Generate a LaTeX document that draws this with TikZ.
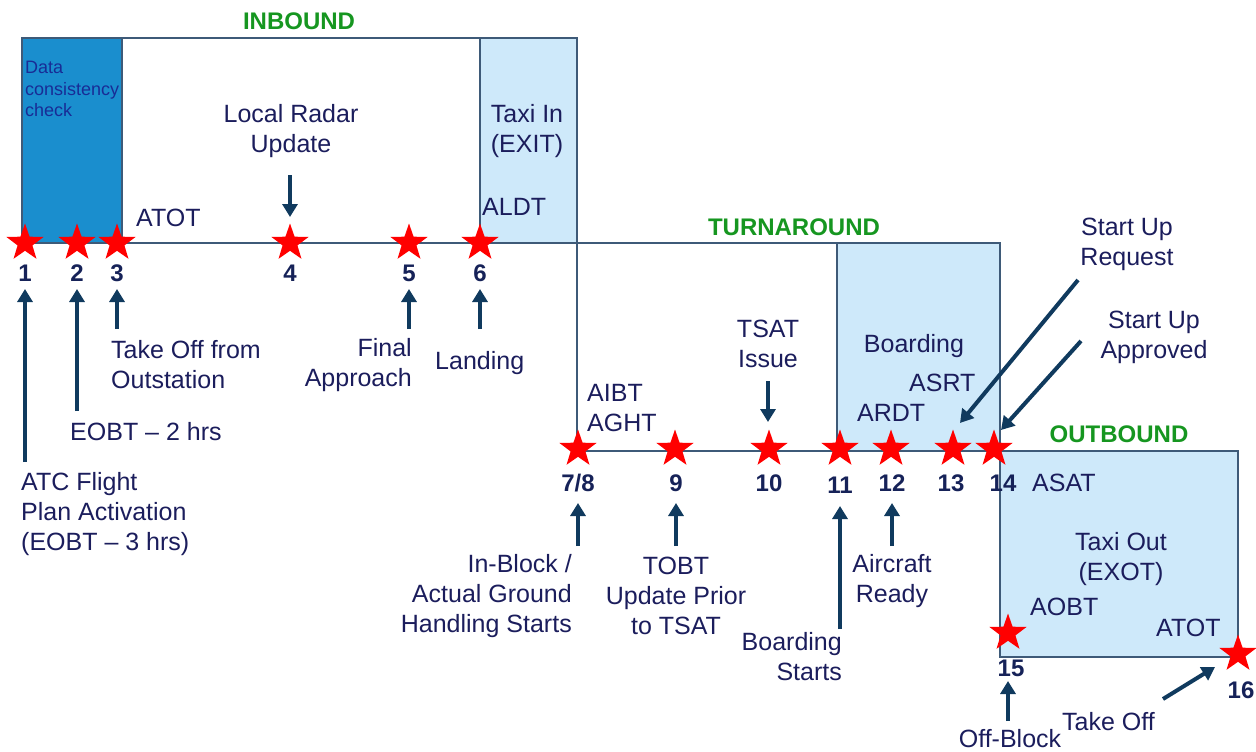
\documentclass[tikz,border=0pt]{standalone}
\usepackage{fontspec}
\setmainfont{Liberation Sans}
\usetikzlibrary{shapes.geometric,arrows.meta}
\definecolor{txt}{RGB}{27,29,92}
\definecolor{numc}{RGB}{22,34,88}
\definecolor{arrc}{RGB}{16,58,94}
\definecolor{edgec}{RGB}{62,90,120}
\definecolor{darkfill}{RGB}{26,142,206}
\definecolor{lightfill}{RGB}{206,233,250}
\definecolor{greenc}{RGB}{22,150,32}
\definecolor{dcc}{RGB}{24,44,150}
\begin{document}
\begin{tikzpicture}[x=1pt,y=-1pt,
  lbl/.style={font=\fontsize{25}{30}\selectfont, text=txt, inner sep=0pt, align=center},
  lbll/.style={lbl, align=left},
  lblr/.style={lbl, align=right},
  num/.style={font=\fontsize{24}{28}\selectfont\bfseries, text=numc, inner sep=0pt},
  phase/.style={font=\fontsize{24}{28}\selectfont\bfseries, text=greenc, inner sep=0pt},
  starmark/.style={star, star points=5, star point ratio=2.5, fill=red, draw=none, minimum size=39pt, inner sep=0pt},
  arr/.style={draw=arrc, line width=4pt, -{Triangle[width=15pt,length=13pt]}},
  boxline/.style={draw=edgec, line width=1.5pt}
]
\useasboundingbox (0,0) rectangle (1256,752);

% ---- boxes ----
\fill[darkfill] (22,38) rectangle (122,243);
\fill[lightfill] (480,38) rectangle (577,243);
\fill[lightfill] (837,244) rectangle (1000,451);
\fill[lightfill] (1000,451) rectangle (1238,657);
\draw[boxline] (22,243) -- (22,38) -- (577,38) -- (577,451);
\draw[boxline] (122,38) -- (122,243);
\draw[boxline] (480,38) -- (480,243);
\draw[boxline] (22,243) -- (1000,243) -- (1000,451);
\draw[boxline] (837,243) -- (837,451);
\draw[boxline] (577,451) -- (1000,451);
\draw[boxline] (1000,451) rectangle (1238,657);

% ---- phase labels ----
\node[phase] (inb) at (299,21) {INBOUND};
\node[phase] (turn) at (794,227) {TURNAROUND};
\node[phase] (outb) at (1119,434) {OUTBOUND};

% ---- texts inside boxes ----
\node[font=\fontsize{18}{21.5}\selectfont, text=dcc, inner sep=0pt, align=left, anchor=north west] (dcc) at (25,61) {Data\\consistency\\check};
\node[lbl] (radar) at (291,131) {Local Radar\\Update};
\node[lbl] (taxiin) at (527,131) {Taxi In\\(EXIT)};
\node[lbl, anchor=west] (atot1) at (136,218) {ATOT};
\node[lbl, anchor=west] (aldt) at (482,207) {ALDT};
\node[lbl] (tsat) at (768,344) {TSAT\\Issue};
\node[lbl] (board) at (914,346) {Boarding};
\node[lbll, anchor=west] (aibt) at (587,408) {AIBT\\AGHT};
\node[lbl, anchor=west] (asrt) at (909,383) {ASRT};
\node[lbl, anchor=west] (ardt) at (857,413) {ARDT};
\node[lbl] (sureq) at (1127,244) {Start Up\\Request};
\node[lbl] (suapp) at (1154,337) {Start Up\\Approved};
\node[lbl, anchor=west] (asat) at (1032,483) {ASAT};
\node[lbl] (taxiout) at (1121,559) {Taxi Out\\(EXOT)};
\node[lbl, anchor=west] (aobt) at (1030,607) {AOBT};
\node[lbl, anchor=west] (atot2) at (1156,628) {ATOT};

% ---- texts below ----
\node[lbll, anchor=west] (t3) at (111,365) {Take Off from\\Outstation};
\node[lblr, anchor=east] (t5) at (412,365) {Final\\Approach};
\node[lbl, anchor=west] (t6) at (435,363) {Landing};
\node[lbl, anchor=west] (t2) at (70,432) {EOBT -- 2 hrs};
\node[lbll, anchor=west] (t1) at (21,514) {ATC Flight\\Plan Activation\\(EOBT -- 3 hrs)};
\node[lblr, anchor=east] (t78) at (572,596) {In-Block /\\Actual Ground\\Handling Starts};
\node[lbl] (t9) at (676,596) {TOBT\\Update Prior\\to TSAT};
\node[lblr, anchor=east] (t11) at (842,657) {Boarding\\Starts};
\node[lbl] (t12) at (892,581) {Aircraft\\Ready};
\node[lbl] (t15) at (1010,739) {Off-Block};
\node[lbl, anchor=west] (t16) at (1062,722) {Take Off};

% ---- stars ----
\foreach \n/\x/\y in {1/25/243, 2/77/243, 3/117/243, 4/290/243, 5/409/243, 6/480/243,
  78/578/449, 9/675/449, 10/769/449, 11/840/449, 12/891/449, 13/953/449, 14/994/449,
  15/1008/633, 16/1238/654}
  \node[starmark] (s\n) at (\x,\y) {};

% ---- numbers ----
\foreach \n/\lab/\x/\y in {1/1/25/273, 2/2/77/273, 3/3/117/273, 4/4/290/273, 5/5/409/273, 6/6/480/273,
  78/7\slash 8/578/483, 9/9/676/483, 10/10/769/483, 11/11/840/485, 12/12/892/483, 13/13/951/483, 14/14/1003/483,
  15/15/1011/668, 16/16/1241/690}
  \node[num] (n\n) at (\x,\y) {\lab};

% ---- arrow end points ----
\coordinate (a1s) at (25,462);   \coordinate (a1e) at (25,289);
\coordinate (a2s) at (77,411);   \coordinate (a2e) at (77,289);
\coordinate (a3s) at (117,329);  \coordinate (a3e) at (117,289);
\coordinate (a4s) at (290,175);  \coordinate (a4e) at (290,217);
\coordinate (a5s) at (409,329);  \coordinate (a5e) at (409,289);
\coordinate (a6s) at (480,329);  \coordinate (a6e) at (480,289);
\coordinate (a78s) at (578,546); \coordinate (a78e) at (578,503);
\coordinate (a9s) at (676,546);  \coordinate (a9e) at (676,503);
\coordinate (a10s) at (768,381); \coordinate (a10e) at (768,422);
\coordinate (a11s) at (840,629); \coordinate (a11e) at (840,506);
\coordinate (a12s) at (892,546); \coordinate (a12e) at (892,503);
\coordinate (a13s) at (1078,280); \coordinate (a13e) at (960,423);
\coordinate (a14s) at (1081,341); \coordinate (a14e) at (1001,430);
\coordinate (a15s) at (1008,721); \coordinate (a15e) at (1008,681);
\coordinate (a16s) at (1163,699); \coordinate (a16e) at (1215,667);

\foreach \k in {1,2,3,4,5,6,78,9,10,11,12,13,14,15,16}
  \draw[arr] (a\k s) -- (a\k e);
\end{tikzpicture}
\end{document}
